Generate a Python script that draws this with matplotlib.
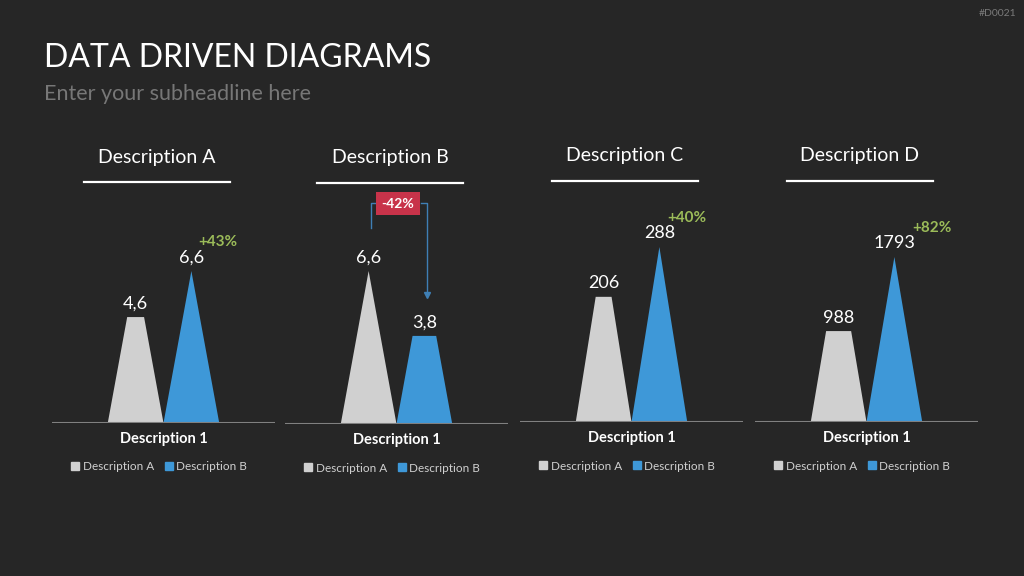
import matplotlib.pyplot as plt
from matplotlib.lines import Line2D

plt.rcParams['font.family'] = ['Lato', 'DejaVu Sans']

# data
headers = ['Description A', 'Description B', 'Description C', 'Description D']
category = 'Description 1'
series_names = ['Description A', 'Description B']
values_a = [4.6, 6.6, 206, 988]
values_b = [6.6, 3.8, 288, 1793]
value_labels_a = ['4,6', '6,6', '206', '988']
value_labels_b = ['6,6', '3,8', '288', '1793']
changes = ['+43%', '-42%', '+40%', '+82%']

BG = '#262626'
GRAY = '#d0d0d0'
BLUE = '#3e98d8'
GREEN = '#9bbb59'
RED = '#c8334a'

W, H = 1024, 576
fig = plt.figure(figsize=(10.24, 5.76), dpi=100, facecolor=BG)


def fx(x):
    return x / W


def fy(y):
    return 1 - y / H


# layout in pixels
panel_left = [52, 285, 520, 755]
panel_w = 223
baseline = [423, 424, 422, 422]
apex_px = [152, 153, 175, 165]
ax_h = 220
growth_dx = [7, 0, 8, 18]

fig.text(fx(44), fy(58), 'DATA DRIVEN DIAGRAMS', color='white', fontsize=23,
         va='center', ha='left')
fig.text(fx(44), fy(94), 'Enter your subheadline here', color='#777777',
         fontsize=15.5, va='center', ha='left')
fig.text(fx(1016), fy(13), '#D0021', color='#7a7a7a', fontsize=7.5,
         va='center', ha='right')

for i in range(4):
    x0 = panel_left[i]
    ax = fig.add_axes([fx(x0), fy(baseline[i]), panel_w / W, ax_h / H])
    ax.set_facecolor('none')
    ax.axis('off')
    va_, vb_ = values_a[i], values_b[i]
    m = max(va_, vb_)
    ax.set_xlim(0, 4)
    ax.set_ylim(0, m * ax_h / apex_px[i])

    # peak shapes: triangle up to the larger value, cut off at each value
    for cx, v, col in [(1.5, va_, GRAY), (2.5, vb_, BLUE)]:
        half_top = 0.5 * (1 - v / m)
        ax.fill([cx - 0.5, cx + 0.5, cx + half_top, cx - half_top],
                [0, 0, v, v], color=col, lw=0)
    ax.axhline(0, color='#808080', lw=1.5)

    ax.annotate(value_labels_a[i], (1.5, va_), xytext=(0, 4),
                textcoords='offset points', ha='center', va='bottom',
                color='white', fontsize=13)
    ax.annotate(value_labels_b[i], (2.5, vb_), xytext=(0, 4),
                textcoords='offset points', ha='center', va='bottom',
                color='white', fontsize=13)
    if i != 1:
        ax.annotate(changes[i], (2.5, vb_),
                    xytext=(growth_dx[i] * 0.72, 29 * 0.72),
                    textcoords='offset points', ha='left', va='center',
                    color=GREEN, fontsize=11, fontweight='bold')

    # header + underline
    hc = x0 + panel_w / 2 - 6.5
    hy = baseline[i] - 266
    fig.text(fx(hc), fy(hy), headers[i], color='white', fontsize=14,
             ha='center', va='center')
    fig.add_artist(Line2D([fx(hc - 73), fx(hc + 73)], [fy(hy + 25)] * 2,
                          color='white', lw=1.6))

    pc = x0 + panel_w / 2
    fig.text(fx(pc), fy(baseline[i] + 16), category, color='white',
             fontsize=10.5, fontweight='bold', ha='center', va='center')
    handles = [Line2D([], [], ls='none', marker='s', ms=5.5, color=c)
               for c in (GRAY, BLUE)]
    fig.legend(handles, series_names, loc='center',
               bbox_to_anchor=(fx(pc - 4), fy(baseline[i] + 44)), ncol=2,
               frameon=False, fontsize=8.5, labelcolor='#d0d0d0',
               handletextpad=0.3, columnspacing=1.0, handlelength=0.6,
               borderaxespad=0)

# bracket annotation for panel B
lc = '#3f7fb5'
fig.add_artist(Line2D([fx(371), fx(371), fx(375)], [fy(228), fy(203), fy(203)],
                      color=lc, lw=1))
fig.add_artist(Line2D([fx(421), fx(427), fx(427)], [fy(203), fy(203), fy(292)],
                      color=lc, lw=1))
fig.add_artist(Line2D([fx(427)], [fy(295)], marker='v', ms=5, color=lc,
                      ls='none'))
fig.text(fx(398), fy(203.5), changes[1], color='white', fontsize=10,
         fontweight='bold', ha='center', va='center',
         bbox=dict(boxstyle='square,pad=0.4', facecolor=RED, edgecolor='none'))

fig.savefig('out.png', dpi=100, facecolor=BG)
